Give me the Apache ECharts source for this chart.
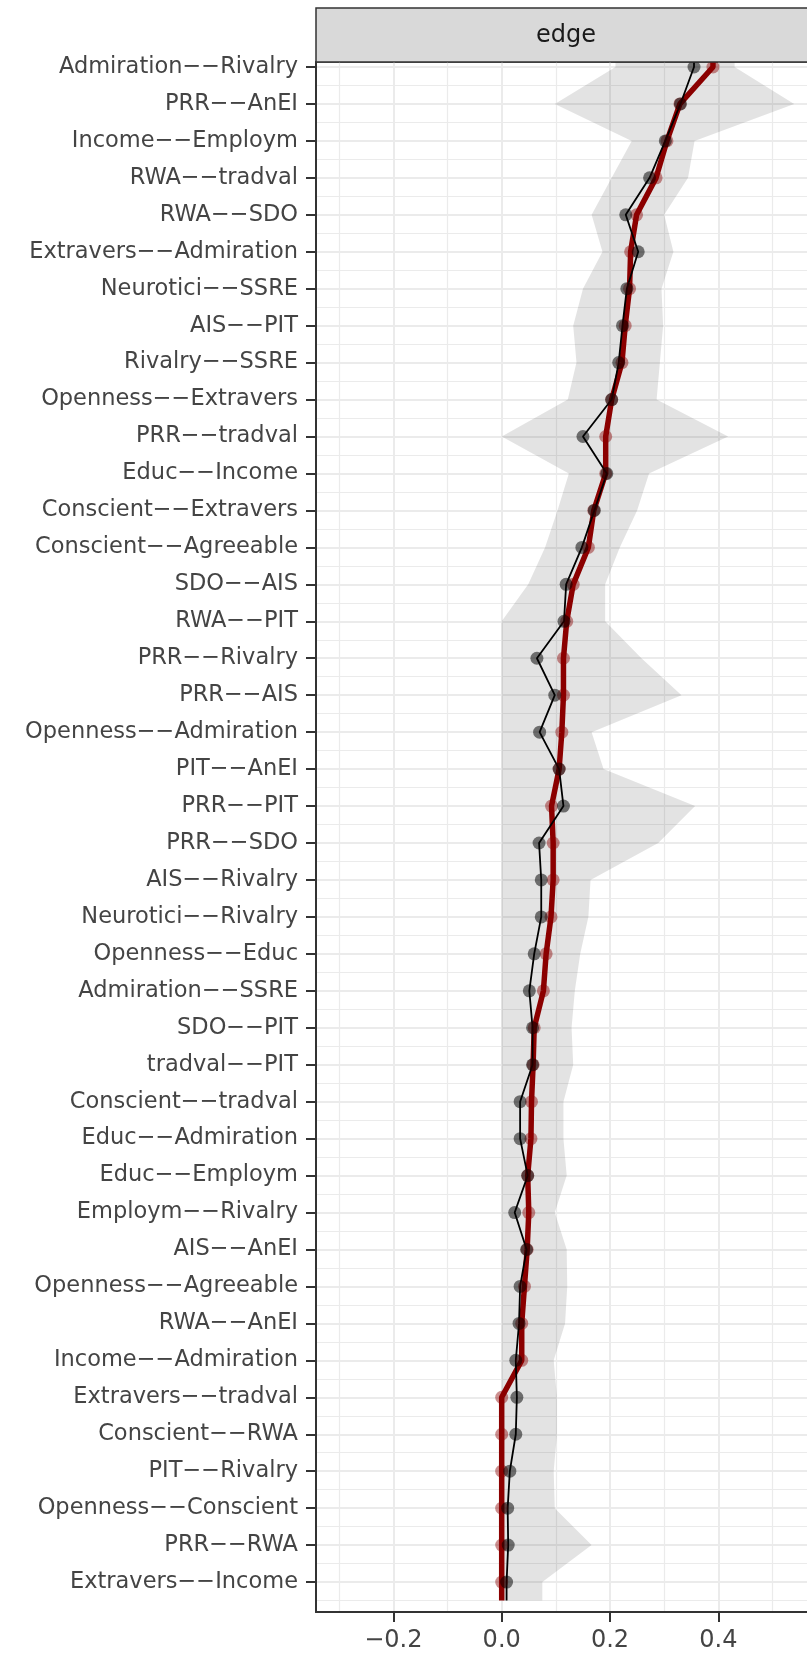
<!DOCTYPE html>
<html>
<head>
<meta charset="utf-8">
<script src="https://cdn.jsdelivr.net/npm/echarts@6/dist/echarts.min.js"></script>
<style>
  html, body { margin: 0; padding: 0; background: #fff; }
  #chart { width: 807px; height: 1655px; }
</style>
</head>
<body>
<div id="chart"></div>
<script>
// edges, top to bottom
const edges = [
  'Admiration--Rivalry', 'PRR--AnEI', 'Income--Employm', 'RWA--tradval', 'RWA--SDO',
  'Extravers--Admiration', 'Neurotici--SSRE', 'AIS--PIT', 'Rivalry--SSRE', 'Openness--Extravers',
  'PRR--tradval', 'Educ--Income', 'Conscient--Extravers', 'Conscient--Agreeable', 'SDO--AIS',
  'RWA--PIT', 'PRR--Rivalry', 'PRR--AIS', 'Openness--Admiration', 'PIT--AnEI',
  'PRR--PIT', 'PRR--SDO', 'AIS--Rivalry', 'Neurotici--Rivalry', 'Openness--Educ',
  'Admiration--SSRE', 'SDO--PIT', 'tradval--PIT', 'Conscient--tradval', 'Educ--Admiration',
  'Educ--Employm', 'Employm--Rivalry', 'AIS--AnEI', 'Openness--Agreeable', 'RWA--AnEI',
  'Income--Admiration', 'Extravers--tradval', 'Conscient--RWA', 'PIT--Rivalry', 'Openness--Conscient',
  'PRR--RWA', 'Extravers--Income'
];

// sample estimate (black)
const sample = [
  0.355, 0.330, 0.302, 0.273, 0.229, 0.252, 0.231, 0.223, 0.216, 0.203,
  0.150, 0.194, 0.171, 0.148, 0.119, 0.115, 0.065, 0.098, 0.070, 0.106,
  0.114, 0.069, 0.073, 0.073, 0.060, 0.051, 0.057, 0.057, 0.034, 0.034,
  0.048, 0.024, 0.046, 0.034, 0.032, 0.026, 0.028, 0.026, 0.015, 0.011,
  0.012, 0.009
];

// bootstrap mean (red)
const bootMean = [
  0.390, 0.329, 0.305, 0.285, 0.249, 0.238, 0.236, 0.228, 0.222, 0.203,
  0.192, 0.192, 0.170, 0.160, 0.132, 0.120, 0.114, 0.114, 0.111, 0.106,
  0.092, 0.095, 0.095, 0.091, 0.082, 0.077, 0.060, 0.058, 0.055, 0.054,
  0.048, 0.050, 0.047, 0.042, 0.037, 0.037, 0.000, 0.000, 0.000, 0.000,
  0.000, 0.000
];

// bootstrap CI (grey band)
const ciLower = [
  0.210, 0.098, 0.240, 0.203, 0.166, 0.186, 0.150, 0.132, 0.138, 0.122,
  0.000, 0.124, 0.103, 0.080, 0.049, 0.000, 0.000, 0.000, 0.000, 0.000,
  0.000, 0.000, 0.000, 0.000, 0.000, 0.000, 0.000, 0.000, 0.000, 0.000,
  0.000, 0.000, 0.000, 0.000, 0.000, 0.000, 0.000, 0.000, 0.000, 0.000,
  0.000, 0.000
];
const ciUpper = [
  0.430, 0.540, 0.356, 0.344, 0.300, 0.317, 0.295, 0.298, 0.292, 0.286,
  0.418, 0.272, 0.250, 0.218, 0.191, 0.191, 0.258, 0.332, 0.166, 0.188,
  0.357, 0.289, 0.164, 0.160, 0.145, 0.135, 0.129, 0.132, 0.114, 0.114,
  0.120, 0.098, 0.120, 0.121, 0.117, 0.096, 0.102, 0.102, 0.096, 0.098,
  0.166, 0.075
];

const xMajorTicks = [-0.2, 0, 0.2, 0.4];
const xMinorTicks = [-0.3, -0.1, 0.1, 0.3, 0.5];

const n = edges.length;
const rowTicks = edges.map((e, i) => i);
const rowMinorTicks = edges.map((e, i) => i + 0.5);

// lines run half a row past the first and last edge, like ggplot does
function withEnds(vals) {
  const pts = vals.map((v, i) => [v, i]);
  return [[vals[0], -0.5]].concat(pts, [[vals[n - 1], n - 0.5]]);
}

const font = '"DejaVu Sans", sans-serif';
const minus = s => s.replace(/-/g, '\u2212');

const chart = echarts.init(document.getElementById('chart'), null, { renderer: 'canvas' });

const option = {
  backgroundColor: '#ffffff',
  animation: false,
  grid: {
    left: 316, top: 62, width: 500, height: 1550,
    show: true, borderColor: '#333333', borderWidth: 1.5,
    containLabel: false, outerBoundsMode: 'none'
  },
  xAxis: [
    {
      type: 'value', min: -0.3428, max: 0.5802,
      axisLine: { show: true, onZero: false, lineStyle: { color: '#333333', width: 2 } },
      axisTick: { show: true, length: 10, customValues: xMajorTicks, lineStyle: { color: '#333333', width: 2 } },
      axisLabel: {
        customValues: xMajorTicks, margin: 17,
        color: '#444444', fontSize: 24, fontFamily: font,
        formatter: v => minus(v.toFixed(1))
      },
      splitLine: { show: true, lineStyle: { color: '#EBEBEB', width: 2 } }
    },
    {
      type: 'value', min: -0.3428, max: 0.5802, position: 'top',
      axisLine: { show: false }, axisLabel: { show: false },
      axisTick: { show: false, customValues: xMinorTicks },
      splitLine: { show: true, lineStyle: { color: '#EBEBEB', width: 1.2 } }
    }
  ],
  yAxis: [
    {
      type: 'value', inverse: true, min: -0.135, max: 41.81,
      axisLine: { show: true, onZero: false, lineStyle: { color: '#333333', width: 2 } },
      axisTick: { show: true, length: 10, customValues: rowTicks, lineStyle: { color: '#333333', width: 2 } },
      axisLabel: {
        customValues: rowTicks, margin: 18,
        color: '#444444', fontSize: 22.5, fontFamily: font,
        formatter: v => minus(edges[Math.round(v)])
      },
      splitLine: { show: true, lineStyle: { color: '#EBEBEB', width: 2 } }
    },
    {
      type: 'value', inverse: true, min: -0.135, max: 41.81, position: 'left',
      axisLine: { show: false }, axisLabel: { show: false },
      axisTick: { show: false, customValues: rowMinorTicks },
      splitLine: { show: true, lineStyle: { color: '#EBEBEB', width: 1.2 } }
    }
  ],
  series: [
    {
      // CI band as one polygon
      type: 'custom',
      clip: true,
      data: [0],
      renderItem: function (params, api) {
        const left = withEnds(ciLower);
        const right = withEnds(ciUpper).reverse();
        const pts = left.concat(right).map(p => api.coord(p));
        return {
          type: 'polygon',
          shape: { points: pts },
          style: { fill: 'rgba(0,0,0,0.11)' }
        };
      },
      z: 1
    },
    {
      type: 'line', name: 'bootstrap mean', data: withEnds(bootMean),
      showSymbol: false, clip: true,
      lineStyle: { color: '#8B0000', width: 5.5 }, z: 2
    },
    {
      type: 'line', name: 'sample', data: withEnds(sample),
      showSymbol: false, clip: true,
      lineStyle: { color: '#000000', width: 1.8 }, z: 3
    },
    {
      type: 'scatter', data: bootMean.map((v, i) => [v, i]),
      symbolSize: 13, itemStyle: { color: 'rgba(139,0,0,0.55)' }, z: 4
    },
    {
      type: 'scatter', data: sample.map((v, i) => [v, i]),
      symbolSize: 13, itemStyle: { color: 'rgba(0,0,0,0.65)' }, z: 5
    }
  ],
  graphic: [
    {
      type: 'rect', z: 100,
      shape: { x: 316, y: 8, width: 500, height: 54 },
      style: { fill: '#D9D9D9', stroke: '#333333', lineWidth: 1.5 }
    },
    {
      type: 'text', z: 101, x: 566, y: 36,
      style: {
        text: 'edge', fill: '#1A1A1A', fontSize: 24, fontFamily: font,
        textAlign: 'center', textVerticalAlign: 'middle',
        align: 'center', verticalAlign: 'middle'
      }
    }
  ]
};

chart.setOption(option);
</script>
</body>
</html>
